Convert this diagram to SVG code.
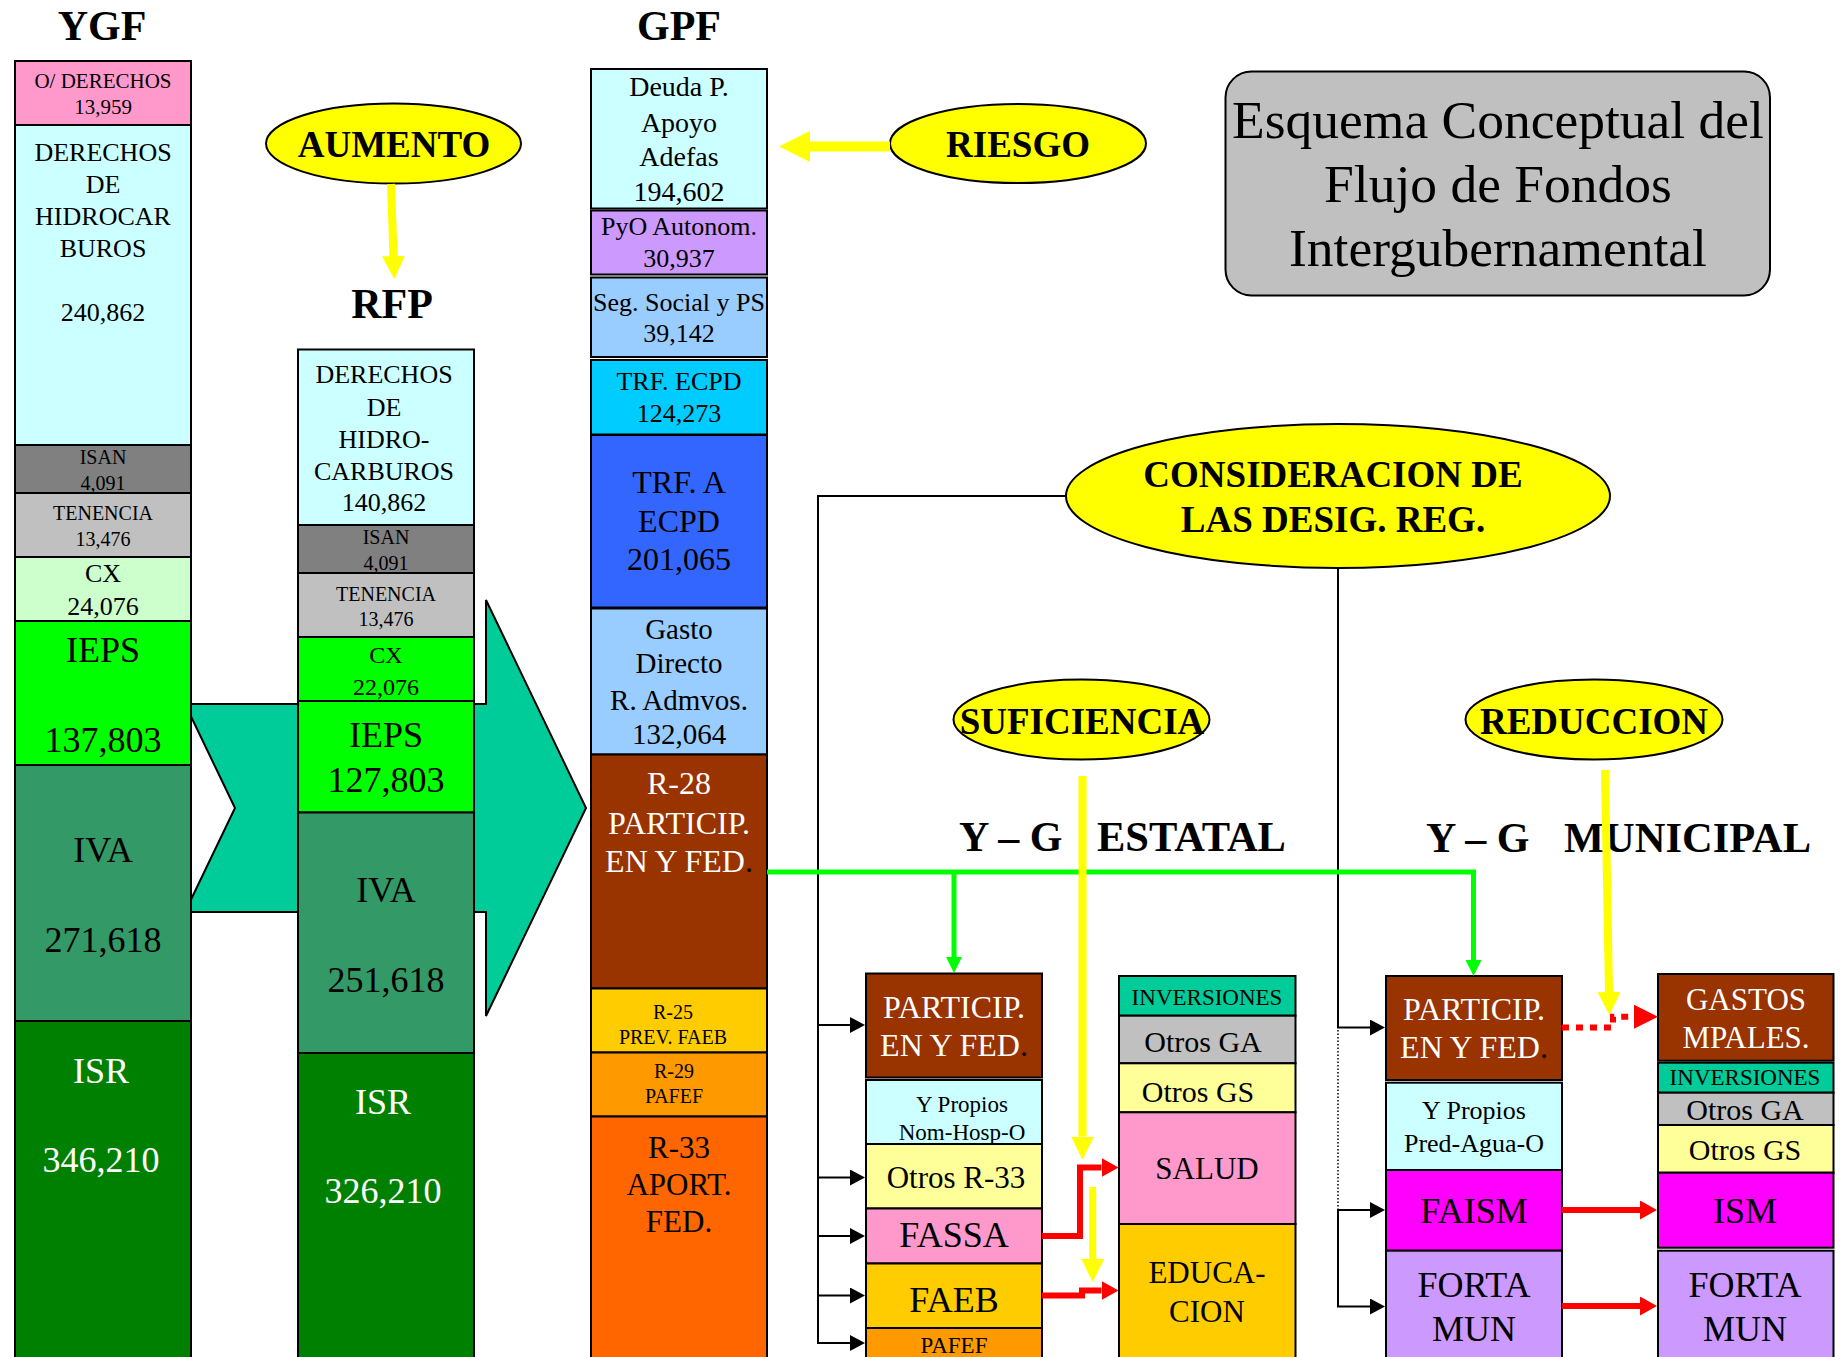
<svg xmlns="http://www.w3.org/2000/svg" width="1845" height="1357" viewBox="0 0 1845 1357">
<style>
text{font-family:"Liberation Serif","Times New Roman",serif;text-anchor:middle;fill:#000}
.b{font-weight:bold}
.w{fill:#fff}
.k{fill:#000}
.box{stroke:#000;stroke-width:2}
.ell{fill:#FFFF00;stroke:#000;stroke-width:2}
.s20{font-size:20px}.s21{font-size:21px}.s22{font-size:22px}.s23{font-size:23px}.s24{font-size:24px}.s26{font-size:26px}.s28{font-size:28px}.s29{font-size:29px}.s30{font-size:30px}.s31{font-size:31px}.s32{font-size:32px}.s36{font-size:36px}
.blk{fill:none;stroke:#000;stroke-width:2}
.grn{fill:none;stroke:#00FF00;stroke-width:5}
.red{fill:none;stroke:#FF0000;stroke-width:6}
.yel{fill:none;stroke:#FFFF00;stroke-width:8}
</style>
<defs>
<marker id="mk" markerUnits="userSpaceOnUse" markerWidth="16" markerHeight="18" refX="0" refY="8" orient="auto"><path d="M0,0 L15,8 L0,16 z" fill="#000"/></marker>
<marker id="mg" markerUnits="userSpaceOnUse" markerWidth="17" markerHeight="18" refX="0" refY="8" orient="auto"><path d="M0,0 L16,8 L0,16 z" fill="#00FF00"/></marker>
<marker id="mr" markerUnits="userSpaceOnUse" markerWidth="18" markerHeight="20" refX="0" refY="9.5" orient="auto"><path d="M0,0 L17,9.5 L0,19 z" fill="#FF0000"/></marker>
<marker id="mr2" markerUnits="userSpaceOnUse" markerWidth="25" markerHeight="25" refX="0" refY="12" orient="auto"><path d="M0,0 L24,12 L0,24 z" fill="#FF0000"/></marker>
<marker id="my" markerUnits="userSpaceOnUse" markerWidth="24" markerHeight="24" refX="0" refY="11.5" orient="auto"><path d="M0,0 L23,11.5 L0,23 z" fill="#FFFF00"/></marker>
<marker id="my2" markerUnits="userSpaceOnUse" markerWidth="32" markerHeight="32" refX="0" refY="15.5" orient="auto"><path d="M0,0 L31,15.5 L0,31 z" fill="#FFFF00"/></marker>
</defs>
<rect width="1845" height="1357" fill="#fff"/>

<g id="big-arrow"><polygon points="185,704 486,704 486,600 586,808 486,1016 486,912 185,912 235,808" fill="#00CC99" stroke="#000" stroke-width="2"/></g>

<g id="titles">
<text class="b" x="102" y="40" style="font-size:42px">YGF</text>
<text class="b" x="392" y="318" style="font-size:42px">RFP</text>
<text class="b" x="679" y="40" style="font-size:42px">GPF</text>
</g>

<g id="ygf">
<rect class="box" x="15" y="61" width="176" height="64" fill="#FF99CC"/>
<text class="s21" x="103" y="88">O/ DERECHOS</text><text class="s21" x="103" y="114">13,959</text>
<rect class="box" x="15" y="125" width="176" height="320" fill="#CCFFFF"/>
<text class="s26" x="103" y="161">DERECHOS</text><text class="s26" x="103" y="193">DE</text><text class="s26" x="103" y="225">HIDROCAR</text><text class="s26" x="103" y="257">BUROS</text><text class="s26" x="103" y="321">240,862</text>
<rect class="box" x="15" y="445" width="176" height="48" fill="#808080"/>
<text class="s20" x="103" y="464">ISAN</text><text class="s20" x="103" y="490">4,091</text>
<rect class="box" x="15" y="493" width="176" height="64" fill="#C0C0C0"/>
<text class="s20" x="103" y="520">TENENCIA</text><text class="s20" x="103" y="546">13,476</text>
<rect class="box" x="15" y="557" width="176" height="64" fill="#CCFFCC"/>
<text class="s26" x="103" y="582">CX</text><text class="s26" x="103" y="615">24,076</text>
<rect class="box" x="15" y="621" width="176" height="144" fill="#00FF00"/>
<text class="s36" x="103" y="662">IEPS</text><text class="s36" x="103" y="752">137,803</text>
<rect class="box" x="15" y="765" width="176" height="256" fill="#339966"/>
<text class="s36" x="103" y="862">IVA</text><text class="s36" x="103" y="952">271,618</text>
<rect class="box" x="15" y="1021" width="176" height="340" fill="#008000"/>
<text class="s36 w" x="101" y="1083">ISR</text><text class="s36 w" x="101" y="1172">346,210</text>
</g>

<g id="rfp">
<rect class="box" x="298" y="349.5" width="176" height="175.5" fill="#CCFFFF"/>
<text class="s26" x="384" y="383">DERECHOS</text><text class="s26" x="384" y="416">DE</text><text class="s26" x="384" y="448">HIDRO-</text><text class="s26" x="384" y="480">CARBUROS</text><text class="s26" x="384" y="511">140,862</text>
<rect class="box" x="298" y="525" width="176" height="48" fill="#808080"/>
<text class="s20" x="386" y="544">ISAN</text><text class="s20" x="386" y="570">4,091</text>
<rect class="box" x="298" y="573" width="176" height="64" fill="#C0C0C0"/>
<text class="s20" x="386" y="601">TENENCIA</text><text class="s20" x="386" y="626">13,476</text>
<rect class="box" x="298" y="637" width="176" height="64" fill="#00FF00"/>
<text class="s24" x="386" y="663">CX</text><text class="s24" x="386" y="695">22,076</text>
<rect class="box" x="298" y="701" width="176" height="111.5" fill="#00FF00"/>
<text class="s36" x="386" y="747">IEPS</text><text class="s36" x="386" y="792">127,803</text>
<rect class="box" x="298" y="812.5" width="176" height="240.5" fill="#339966"/>
<text class="s36" x="386" y="902">IVA</text><text class="s36" x="386" y="992">251,618</text>
<rect class="box" x="298" y="1053" width="176" height="310" fill="#008000"/>
<text class="s36 w" x="383" y="1114">ISR</text><text class="s36 w" x="383" y="1203">326,210</text>
</g>

<g id="gpf">
<rect class="box" x="591" y="69" width="176" height="139.5" fill="#CCFFFF"/>
<text class="s28" x="679" y="96">Deuda P.</text><text class="s28" x="679" y="132">Apoyo</text><text class="s28" x="679" y="166">Adefas</text><text class="s28" x="679" y="201">194,602</text>
<rect class="box" x="591" y="210.5" width="176" height="64" fill="#CC99FF"/>
<text class="s26" x="679" y="235">PyO Autonom.</text><text class="s26" x="679" y="267">30,937</text>
<rect class="box" x="591" y="277.5" width="176" height="79.5" fill="#99CCFF"/>
<text class="s26" x="679" y="311">Seg. Social y PS</text><text class="s26" x="679" y="342">39,142</text>
<rect class="box" x="591" y="360" width="176" height="74.5" fill="#00CCFF"/>
<text class="s26" x="679" y="390">TRF. ECPD</text><text class="s26" x="679" y="422">124,273</text>
<rect class="box" x="591" y="435" width="176" height="172.5" fill="#3366FF"/>
<text class="s32" x="679" y="493">TRF. A</text><text class="s32" x="679" y="532">ECPD</text><text class="s32" x="679" y="570">201,065</text>
<rect class="box" x="591" y="608.5" width="176" height="146" fill="#99CCFF"/>
<text class="s29" x="679" y="639">Gasto</text><text class="s29" x="679" y="673">Directo</text><text class="s29" x="679" y="710">R. Admvos.</text><text class="s29" x="679" y="744">132,064</text>
<rect class="box" x="591" y="754.5" width="176" height="234" fill="#993300"/>
<text class="s32 w" x="679" y="794">R-28</text><text class="s32 w" x="679" y="834">PARTICIP.</text><text class="s32 w" x="679" y="872">EN Y FED<tspan class="k">.</tspan></text>
<rect class="box" x="591" y="988.5" width="176" height="64" fill="#FFCC00"/>
<text class="s20" x="673" y="1019">R-25</text><text class="s20" x="673" y="1044">PREV. FAEB</text>
<rect class="box" x="591" y="1052.5" width="176" height="64" fill="#FF9900"/>
<text class="s20" x="674" y="1078">R-29</text><text class="s20" x="674" y="1103">PAFEF</text>
<rect class="box" x="591" y="1116.5" width="176" height="245" fill="#FF6600"/>
<text class="s31" x="679" y="1158">R-33</text><text class="s31" x="679" y="1195">APORT.</text><text class="s31" x="679" y="1232">FED.</text>
</g>

<g id="aumento"><ellipse class="ell" cx="393.5" cy="143.6" rx="127.5" ry="40"/><text class="b" x="394" y="157" style="font-size:37px">AUMENTO</text></g>
<g id="riesgo"><ellipse class="ell" cx="1018" cy="143.5" rx="128" ry="39.5"/><text class="b" x="1018" y="157" style="font-size:37px">RIESGO</text></g>

<g id="titulo"><rect x="1225.5" y="71.5" width="544.5" height="224" rx="26" fill="#C0C0C0" stroke="#000" stroke-width="2"/>
<text x="1498" y="138" style="font-size:53.5px">Esquema Conceptual del</text>
<text x="1498" y="202" style="font-size:53.5px">Flujo de Fondos</text>
<text x="1498" y="266" style="font-size:53.5px">Intergubernamental</text></g>

<g id="consideracion"><ellipse class="ell" cx="1338" cy="496" rx="272" ry="72"/><text class="b" x="1333" y="487" style="font-size:37px">CONSIDERACION DE</text><text class="b" x="1333" y="532" style="font-size:37px">LAS DESIG. REG.</text></g>

<g id="suficiencia"><ellipse class="ell" cx="1081.5" cy="719.5" rx="128" ry="40"/><text class="b" x="1082" y="734" style="font-size:37px">SUFICIENCIA</text></g>
<g id="reduccion"><ellipse class="ell" cx="1594" cy="719.5" rx="128.5" ry="40"/><text class="b" x="1594" y="734" style="font-size:37px">REDUCCION</text></g>

<g id="labels">
<text class="b" x="959" y="851" style="font-size:42px;text-anchor:start">Y – G</text>
<text class="b" x="1097" y="851" style="font-size:42.5px;text-anchor:start">ESTATAL</text>
<text class="b" x="1426" y="852" style="font-size:42px;text-anchor:start">Y – G</text>
<text class="b" x="1564" y="852" style="font-size:42.5px;text-anchor:start">MUNICIPAL</text>
</g>

<g id="estatal-ingresos">
<rect class="box" x="866" y="973.5" width="176" height="104" fill="#993300"/>
<text class="s32 w" x="954" y="1018">PARTICIP.</text><text class="s32 w" x="954" y="1056">EN Y FED<tspan class="k">.</tspan></text>
<rect class="box" x="866" y="1080" width="176" height="64" fill="#CCFFFF"/>
<text class="s23" x="962" y="1112">Y Propios</text><text class="s23" x="962" y="1140">Nom-Hosp-O</text>
<rect class="box" x="866" y="1144" width="176" height="64.5" fill="#FFFF99"/>
<text class="s31" x="956" y="1188">Otros R-33</text>
<rect class="box" x="866" y="1208.5" width="176" height="55" fill="#FF99CC"/>
<text class="s36" x="954" y="1247">FASSA</text>
<rect class="box" x="866" y="1263.5" width="176" height="64.5" fill="#FFCC00"/>
<text class="s36" x="954" y="1312">FAEB</text>
<rect class="box" x="866" y="1328" width="176" height="35" fill="#FF9900"/>
<text class="s23" x="954" y="1353">PAFEF</text>
</g>

<g id="estatal-gastos">
<rect class="box" x="1119" y="976" width="176.5" height="39.7" fill="#00CC99"/>
<text class="s23" x="1207" y="1005">INVERSIONES</text>
<rect class="box" x="1119" y="1015.7" width="176.5" height="47.6" fill="#C0C0C0"/>
<text class="s30" x="1203" y="1052">Otros GA</text>
<rect class="box" x="1119" y="1063.3" width="176.5" height="49" fill="#FFFF99"/>
<text class="s30" x="1198" y="1102">Otros GS</text>
<rect class="box" x="1119" y="1112.3" width="176.5" height="111.7" fill="#FF99CC"/>
<text class="s31" x="1207" y="1179">SALUD</text>
<rect class="box" x="1119" y="1224" width="176.5" height="140" fill="#FFCC00"/>
<text class="s31" x="1207" y="1283">EDUCA-</text><text class="s31" x="1207" y="1322">CION</text>
</g>

<g id="municipal-ingresos">
<rect class="box" x="1386" y="976" width="176" height="104" fill="#993300"/>
<text class="s32 w" x="1474" y="1020">PARTICIP.</text><text class="s32 w" x="1474" y="1058">EN Y FED<tspan class="k">.</tspan></text>
<rect class="box" x="1386" y="1082.7" width="176" height="87.3" fill="#CCFFFF"/>
<text class="s26" x="1474" y="1119">Y Propios</text><text class="s26" x="1474" y="1152">Pred-Agua-O</text>
<rect class="box" x="1386" y="1170" width="176" height="80.7" fill="#FF00FF"/>
<text class="s36" x="1474" y="1223">FAISM</text>
<rect class="box" x="1386" y="1250.7" width="176" height="112" fill="#CC99FF"/>
<text class="s36" x="1474" y="1297">FORTA</text><text class="s36" x="1474" y="1341">MUN</text>
</g>

<g id="municipal-gastos">
<rect class="box" x="1658" y="974" width="175.5" height="86.7" fill="#993300"/>
<text class="s31 w" x="1746" y="1010">GASTOS</text><text class="s31 w" x="1746" y="1048">MPALES.</text>
<rect class="box" x="1658" y="1062.7" width="175.5" height="30" fill="#00CC99"/>
<text class="s23" x="1745" y="1085">INVERSIONES</text>
<rect class="box" x="1658" y="1092.7" width="175.5" height="32.3" fill="#C0C0C0"/>
<text class="s30" x="1745" y="1120">Otros GA</text>
<rect class="box" x="1658" y="1125" width="175.5" height="47.7" fill="#FFFF99"/>
<text class="s30" x="1745" y="1160">Otros GS</text>
<rect class="box" x="1658" y="1172.7" width="175.5" height="75" fill="#FF00FF"/>
<text class="s36" x="1745" y="1223">ISM</text>
<rect class="box" x="1658" y="1250.7" width="175.5" height="112" fill="#CC99FF"/>
<text class="s36" x="1745" y="1297">FORTA</text><text class="s36" x="1745" y="1341">MUN</text>
</g>

<g id="connectors">
<path class="blk" d="M1066,496 H818 V1343 H850" marker-end="url(#mk)"/>
<path class="blk" d="M818,1025 H850" marker-end="url(#mk)"/>
<path class="blk" d="M818,1177.5 H850" marker-end="url(#mk)"/>
<path class="blk" d="M818,1236 H850" marker-end="url(#mk)"/>
<path class="blk" d="M818,1295.5 H850" marker-end="url(#mk)"/>
<path class="blk" d="M1338,568 V1027.5 H1370" marker-end="url(#mk)"/>
<path d="M1338,1030 V1209" fill="none" stroke="#000" stroke-width="1.5" stroke-dasharray="1.5,2"/>
<path class="blk" d="M1370,1210 H1338 V1306.5 H1370" marker-end="url(#mk)"/>
<path class="blk" d="M1338,1210 H1370" marker-end="url(#mk)"/>
<path class="grn" d="M767,872 H1473.5 V960" marker-end="url(#mg)"/>
<path class="grn" d="M954,872 V957" marker-end="url(#mg)"/>
<path class="red" d="M1042,1236 H1080 V1167.5 H1101.5" marker-end="url(#mr)"/>
<path class="red" d="M1042,1295.5 H1082 V1290.5 H1101.5" marker-end="url(#mr)"/>
<path class="red" d="M1562,1210 H1640" marker-end="url(#mr)"/>
<path class="red" d="M1562,1306 H1640" marker-end="url(#mr)"/>
<path class="red" d="M1562,1027.5 H1613 V1016.7 H1634" stroke-dasharray="7,7" marker-end="url(#mr2)"/>
<path class="yel" d="M391,184 L393.5,256" marker-end="url(#my)"/>
<path d="M890,146.5 H810" fill="none" stroke="#FFFF00" stroke-width="10" marker-end="url(#my2)"/>
<path class="yel" d="M1082.5,776 V1136.5" marker-end="url(#my)"/>
<path class="yel" d="M1092.7,1187 V1259" style="stroke-width:7" marker-end="url(#my)"/>
<path class="yel" d="M1605,770 L1609,992" marker-end="url(#my)"/>
</g>
</svg>
